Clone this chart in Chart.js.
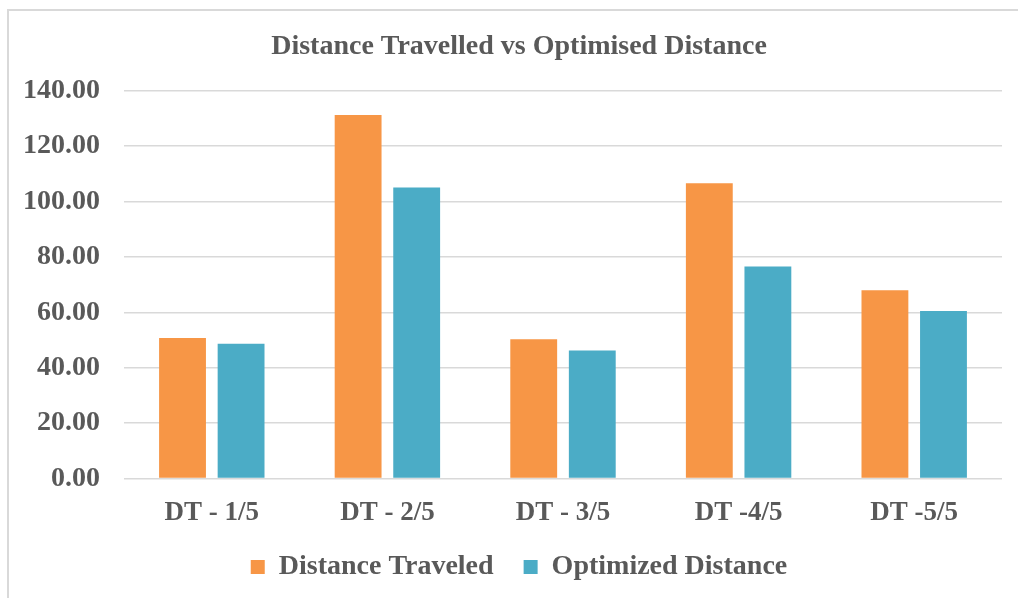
<!DOCTYPE html>
<html>
<head>
<meta charset="utf-8">
<script src="https://cdn.jsdelivr.net/npm/chart.js@4/dist/chart.umd.min.js"></script>
<style>
  html, body { margin: 0; padding: 0; background: #ffffff; }
  #frame {
    position: absolute; left: 7px; top: 9px; width: 1020px; height: 600px;
    border-left: 2px solid #d9d9d9; border-top: 2px solid #d9d9d9;
  }
  #wrap { position: absolute; left: 0; top: 0; width: 1018px; height: 598px; }
</style>
</head>
<body>
<div id="frame"></div>
<div id="wrap"><canvas id="chart" width="1018" height="598"></canvas></div>
<script>
// Trip segments and their distances
const categories = ['DT - 1/5', 'DT - 2/5', 'DT - 3/5', 'DT -4/5', 'DT -5/5'];
const distanceTraveled = [50.7, 131.2, 50.3, 106.6, 68.0];
const optimizedDistance = [48.7, 105.0, 46.2, 76.5, 60.5];
const yTicks = [0, 20, 40, 60, 80, 100, 120, 140];

const FONT = "'Times New Roman', 'Liberation Serif', serif";
const TEXT = '#595959';

// Compact legend box with wide gaps between items; title and legend
// are centred a little right of the canvas middle.
const blockTweaks = {
  id: 'blockTweaks',
  beforeInit(chart) {
    const lg = chart.legend;
    if (!lg) return;
    const fit = lg.fit;
    lg.fit = function () { fit.call(this); this.height = 59; };
  },
  afterLayout(chart) {
    const t = chart.titleBlock;
    if (t) { t.left += 13; t.right += 13; }
    const lg = chart.legend;
    if (lg) {
      lg.left += 13; lg.right += 13;
      lg.top -= 16; lg.bottom -= 16;
      lg.adjustHitBoxes && lg.adjustHitBoxes();
    }
  }
};

new Chart(document.getElementById('chart'), {
  type: 'bar',
  data: {
    labels: categories,
    datasets: [
      { label: 'Distance Traveled', data: distanceTraveled, backgroundColor: '#f79646',
        categoryPercentage: 0.667, barPercentage: 0.80 },
      { label: 'Optimized Distance', data: optimizedDistance, backgroundColor: '#4bacc6',
        categoryPercentage: 0.667, barPercentage: 0.80 }
    ]
  },
  plugins: [blockTweaks],
  options: {
    responsive: false,
    animation: false,
    layout: { padding: { left: 10, right: 16, top: 30, bottom: 0 } },
    plugins: {
      tooltip: { enabled: false },
      title: {
        display: true,
        text: 'Distance Travelled vs Optimised Distance',
        color: TEXT,
        font: { family: FONT, size: 28, weight: 'bold' },
        padding: { top: 0, bottom: 27 }
      },
      legend: {
        position: 'bottom',
        labels: {
          color: TEXT,
          font: { family: FONT, size: 28, weight: 'bold' },
          boxWidth: 14, boxHeight: 14, padding: 30
        }
      }
    },
    scales: {
      x: {
        grid: { display: false },
        border: { display: false },
        ticks: { color: TEXT, font: { family: FONT, size: 27, weight: 'bold' }, padding: 10 }
      },
      y: {
        min: 0, max: 140,
        afterBuildTicks: (scale) => { scale.ticks = yTicks.map(v => ({ value: v })); },
        afterFit: (scale) => { scale.width = 114; },
        grid: { color: '#d9d9d9', lineWidth: 1.5, drawTicks: false },
        border: { display: false },
        ticks: {
          color: TEXT, padding: 24,
          font: { family: FONT, size: 28, weight: 'bold' },
          callback: (v) => Number(v).toFixed(2)
        }
      }
    }
  }
});
</script>
</body>
</html>
